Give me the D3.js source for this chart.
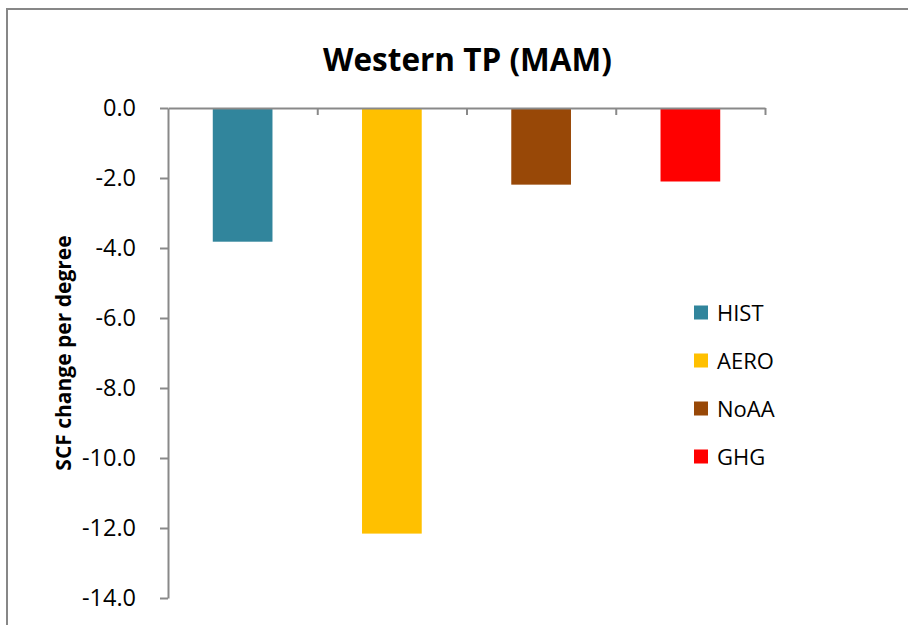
<!DOCTYPE html>
<html>
<head>
<meta charset="utf-8">
<script src="https://cdn.jsdelivr.net/npm/d3@7"></script>
<style>
  body { margin: 0; background: #fff; }
  svg { display: block; }
</style>
</head>
<body>
<svg id="chart" width="908" height="625"></svg>
<script>
// Snow cover fraction change per degree of warming, spring season
const categories = ["HIST", "AERO", "NoAA", "GHG"];
const values = [-3.82, -12.16, -2.19, -2.10];
const colors = ["#31859C", "#FFC000", "#984807", "#FF0000"];
const yTicks = [0, -2, -4, -6, -8, -10, -12, -14];
const titleText = "Western TP (MAM)";
const yLabelText = "SCF change per degree";

const font = "'Open Sans', 'Noto Sans', sans-serif";
const axisColor = "#898989";
const svg = d3.select("#chart");

// chart frame
svg.append("rect")
  .attr("x", 7).attr("y", 9)
  .attr("width", 1000).attr("height", 1000)
  .attr("fill", "#fff")
  .attr("stroke", "#878787")
  .attr("stroke-width", 2);

const plot = { left: 168, right: 765, top: 108, bottom: 598 };

const x = d3.scaleBand()
  .domain(categories)
  .range([plot.left, plot.right])
  .paddingInner(0).paddingOuter(0);

const y = d3.scaleLinear()
  .domain([0, -14])
  .range([plot.top, plot.bottom]);

// gap width 150% of bar width
const barW = x.bandwidth() / 2.5;

// bars hang down from zero
svg.append("g")
  .selectAll("rect")
  .data(categories)
  .join("rect")
  .attr("x", d => x(d) + (x.bandwidth() - barW) / 2)
  .attr("y", y(0))
  .attr("width", barW)
  .attr("height", (d, i) => y(values[i]) - y(0))
  .attr("fill", (d, i) => colors[i]);

// value axis
const yAxis = svg.append("g")
  .attr("transform", `translate(${plot.left},0)`)
  .call(d3.axisLeft(y)
    .tickValues(yTicks)
    .tickSize(8)
    .tickSizeOuter(0)
    .tickPadding(24)
    .tickFormat(d => d.toFixed(1)));

// category axis along zero, tick marks at band edges
const edges = d3.scaleLinear().domain([0, categories.length]).range([plot.left, plot.right]);
const xAxis = svg.append("g")
  .attr("transform", `translate(0,${y(0)})`)
  .call(d3.axisBottom(edges)
    .tickValues(d3.range(1, categories.length + 1))
    .tickSize(7)
    .tickSizeOuter(0)
    .tickFormat(""));

[yAxis, xAxis].forEach(g => {
  g.select(".domain").attr("stroke", axisColor).attr("stroke-width", 2);
  g.selectAll(".tick line").attr("stroke", axisColor).attr("stroke-width", 2);
});
yAxis.selectAll(".tick text")
  .attr("fill", "#000")
  .style("font-family", font)
  .style("font-size", "23.5px");

// title
svg.append("text")
  .attr("x", 467.5).attr("y", 71)
  .attr("text-anchor", "middle")
  .style("font-family", font)
  .style("font-weight", "bold")
  .style("font-size", "31.5px")
  .text(titleText);

// value axis title
svg.append("text")
  .attr("transform", `translate(71,${(plot.top + plot.bottom) / 2}) rotate(-90)`)
  .attr("text-anchor", "middle")
  .style("font-family", font)
  .style("font-weight", "bold")
  .style("font-size", "21px")
  .text(yLabelText);

// legend
const legend = svg.append("g")
  .selectAll("g")
  .data(categories)
  .join("g")
  .attr("transform", (d, i) => `translate(694,${312.5 + i * 48})`);

legend.append("rect")
  .attr("x", 0).attr("y", -7)
  .attr("width", 14).attr("height", 14)
  .attr("fill", (d, i) => colors[i]);

legend.append("text")
  .attr("x", 23).attr("y", 8)
  .style("font-family", font)
  .style("font-size", "22px")
  .text(d => d);
</script>
</body>
</html>
